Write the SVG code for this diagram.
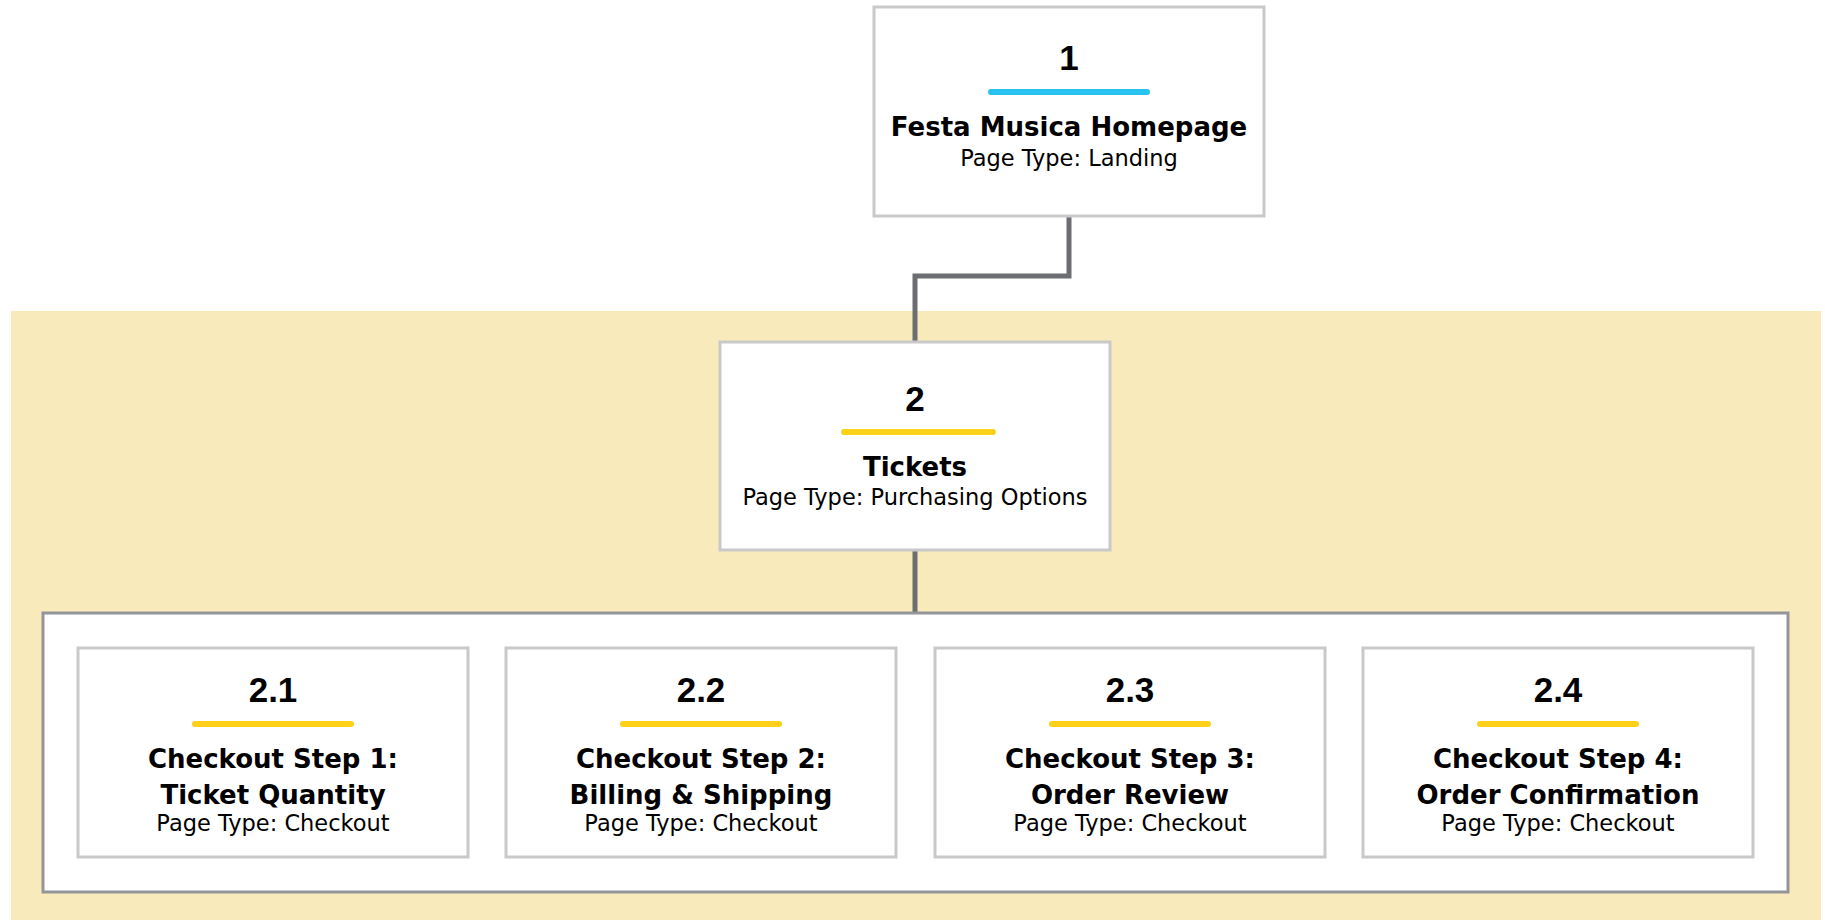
<svg xmlns="http://www.w3.org/2000/svg" width="1825" height="920" viewBox="0 0 1825 920">
<style>
.box{fill:#ffffff;stroke:#c9c9c9;stroke-width:3}
.cont{fill:#ffffff;stroke:#939598;stroke-width:3}
.conn{fill:none;stroke:#6d6e71;stroke-width:5}
.bar{stroke-width:6;stroke-linecap:round}
.blue{stroke:#29c1f0}
.yel{stroke:#fdd01a}
.num{font-family:"Liberation Sans",Arial,sans-serif;font-weight:bold;font-size:35px;fill:#000;text-anchor:middle}
.ttl{font-family:"DejaVu Sans",Verdana,sans-serif;font-weight:bold;font-size:26px;fill:#000;text-anchor:middle}
.sub{font-family:"DejaVu Sans",Verdana,sans-serif;font-size:22.5px;fill:#000;text-anchor:middle}
</style>
<rect x="11" y="311" width="1810" height="609" fill="#f9eabc"/>
<g id="connectors">
<polyline class="conn" points="1069,216 1069,276 915,276 915,342"/>
<line class="conn" x1="915" y1="550" x2="915" y2="613"/>
<line class="conn" x1="468" y1="752" x2="506" y2="752"/>
<line class="conn" x1="896" y1="752" x2="935" y2="752"/>
<line class="conn" x1="1325" y1="752" x2="1363" y2="752"/>
</g>
<g id="container">
<rect class="cont" x="43" y="613" width="1745" height="279"/>
</g>
<g id="node-1">
<rect class="box" x="874" y="7" width="390" height="209"/>
<text class="num" x="1069" y="70">1</text>
<line class="bar blue" x1="991" y1="92" x2="1147" y2="92"/>
<text class="ttl" x="1069" y="136">Festa Musica Homepage</text>
<text class="sub" x="1069" y="166">Page Type: Landing</text>
</g>
<g id="node-2">
<rect class="box" x="720" y="342" width="390" height="208"/>
<text class="num" x="915" y="411">2</text>
<line class="bar yel" x1="844" y1="432" x2="993" y2="432"/>
<text class="ttl" x="915" y="476">Tickets</text>
<text class="sub" x="915" y="505">Page Type: Purchasing Options</text>
</g>
<g id="node-2-1">
<rect class="box" x="78" y="648" width="390" height="209"/>
<text class="num" x="273" y="702">2.1</text>
<line class="bar yel" x1="195" y1="724" x2="351" y2="724"/>
<text class="ttl" x="273" y="768">Checkout Step 1:</text>
<text class="ttl" x="273" y="804">Ticket Quantity</text>
<text class="sub" x="273" y="831">Page Type: Checkout</text>
</g>
<g id="node-2-2">
<rect class="box" x="506" y="648" width="390" height="209"/>
<text class="num" x="701" y="702">2.2</text>
<line class="bar yel" x1="623" y1="724" x2="779" y2="724"/>
<text class="ttl" x="701" y="768">Checkout Step 2:</text>
<text class="ttl" x="701" y="804">Billing &amp; Shipping</text>
<text class="sub" x="701" y="831">Page Type: Checkout</text>
</g>
<g id="node-2-3">
<rect class="box" x="935" y="648" width="390" height="209"/>
<text class="num" x="1130" y="702">2.3</text>
<line class="bar yel" x1="1052" y1="724" x2="1208" y2="724"/>
<text class="ttl" x="1130" y="768">Checkout Step 3:</text>
<text class="ttl" x="1130" y="804">Order Review</text>
<text class="sub" x="1130" y="831">Page Type: Checkout</text>
</g>
<g id="node-2-4">
<rect class="box" x="1363" y="648" width="390" height="209"/>
<text class="num" x="1558" y="702">2.4</text>
<line class="bar yel" x1="1480" y1="724" x2="1636" y2="724"/>
<text class="ttl" x="1558" y="768">Checkout Step 4:</text>
<text class="ttl" x="1558" y="804">Order Confirmation</text>
<text class="sub" x="1558" y="831">Page Type: Checkout</text>
</g>
</svg>
